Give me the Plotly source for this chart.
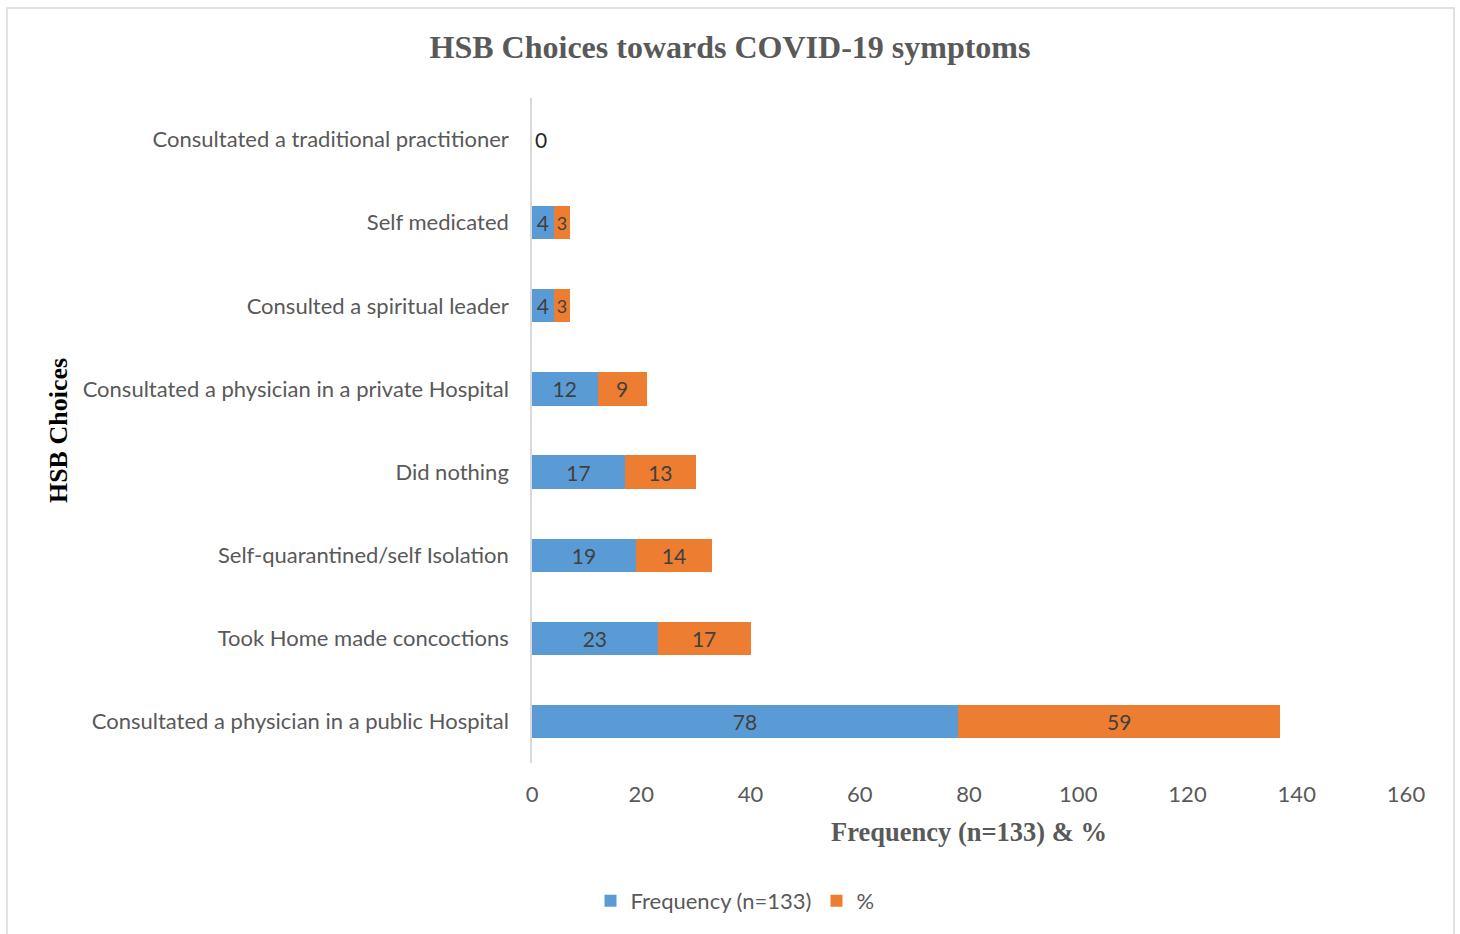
import plotly.graph_objects as go

categories = [
    "Consultated a physician in a public Hospital",
    "Took Home made concoctions",
    "Self-quarantined/self Isolation",
    "Did nothing",
    "Consultated a physician in a private Hospital",
    "Consulted a spiritual leader",
    "Self medicated",
    "Consultated a traditional practitioner",
]
frequency = [78, 23, 19, 17, 12, 4, 4, 0]
percent = [59, 17, 14, 13, 9, 3, 3, 0]

BLUE = "#5B9BD5"
ORANGE = "#ED7D31"
GREY = "#595959"
FONT = "Lato"

freq_text = [str(v) if v > 0 else "" for v in frequency]
pct_text = [str(v) for v in percent]
pct_pos = ["inside" if v > 0 else "outside" for v in percent]

fig = go.Figure()
fig.add_trace(go.Bar(
    y=categories, x=frequency, orientation="h", name="Frequency (n=133)",
    marker=dict(color=BLUE, line=dict(width=0)),
    text=freq_text, textposition="inside", insidetextanchor="middle",
    textfont=dict(family=FONT, size=21, color="#404040"),
    width=0.4,
))
fig.add_trace(go.Bar(
    y=categories, x=percent, orientation="h", name="%",
    marker=dict(color=ORANGE, line=dict(width=0)),
    text=pct_text, textposition=pct_pos, insidetextanchor="middle",
    textfont=dict(family=FONT, size=21, color="#404040"),
    outsidetextfont=dict(family=FONT, size=21, color="#262626"),
    width=0.4, cliponaxis=False,
))

fig.update_layout(
    barmode="stack",
    width=1460, height=934,
    paper_bgcolor="white", plot_bgcolor="white",
    margin=dict(l=532, r=54, t=98, b=171, autoexpand=False),
    font=dict(family=FONT, color=GREY),
    title=dict(
        text="<b>HSB Choices towards COVID-19 symptoms</b>",
        font=dict(family="Liberation Serif", size=32, color=GREY),
        x=0.5, xanchor="center", xref="container",
        y=1 - 47 / 934, yanchor="middle", yref="container",
    ),
    xaxis=dict(
        range=[0, 160], dtick=20, showgrid=False, zeroline=False, showline=False,
        tickfont=dict(family=FONT, size=22, color=GREY),
        ticklabelstandoff=16,
        title=dict(text="<b>Frequency (n=133) & %</b>",
                   font=dict(family="Liberation Serif", size=26.5, color=GREY),
                   standoff=16),
        automargin=False,
    ),
    yaxis=dict(
        showgrid=False, zeroline=False, showline=True, linecolor="#d9d9d9", linewidth=1.5,
        tickfont=dict(family=FONT, size=22, color=GREY),
        ticklabelstandoff=17,
        title=dict(text="<b>HSB Choices</b>",
                   font=dict(family="Liberation Serif", size=26, color="#000000"),
                   standoff=8),
        automargin=False,
    ),
    legend=dict(
        orientation="h", x=(735 - 532) / 874, xanchor="center",
        y=(763 - 901) / 665, yanchor="middle",
        font=dict(family=FONT, size=22, color=GREY),
        traceorder="normal", itemwidth=30,
    ),
    shapes=[dict(
        type="rect", xref="paper", yref="paper",
        x0=(7 - 532) / 874, x1=(1454 - 532) / 874,
        y0=(763 - 945) / 665, y1=(763 - 8) / 665,
        line=dict(color="#d9d9d9", width=1.5), layer="below",
    )],
    showlegend=True,
)

fig.write_html(
    "out.html",
    config={"displayModeBar": False},
    post_script="document.body.style.margin='0';document.body.style.overflow='hidden';",
)
